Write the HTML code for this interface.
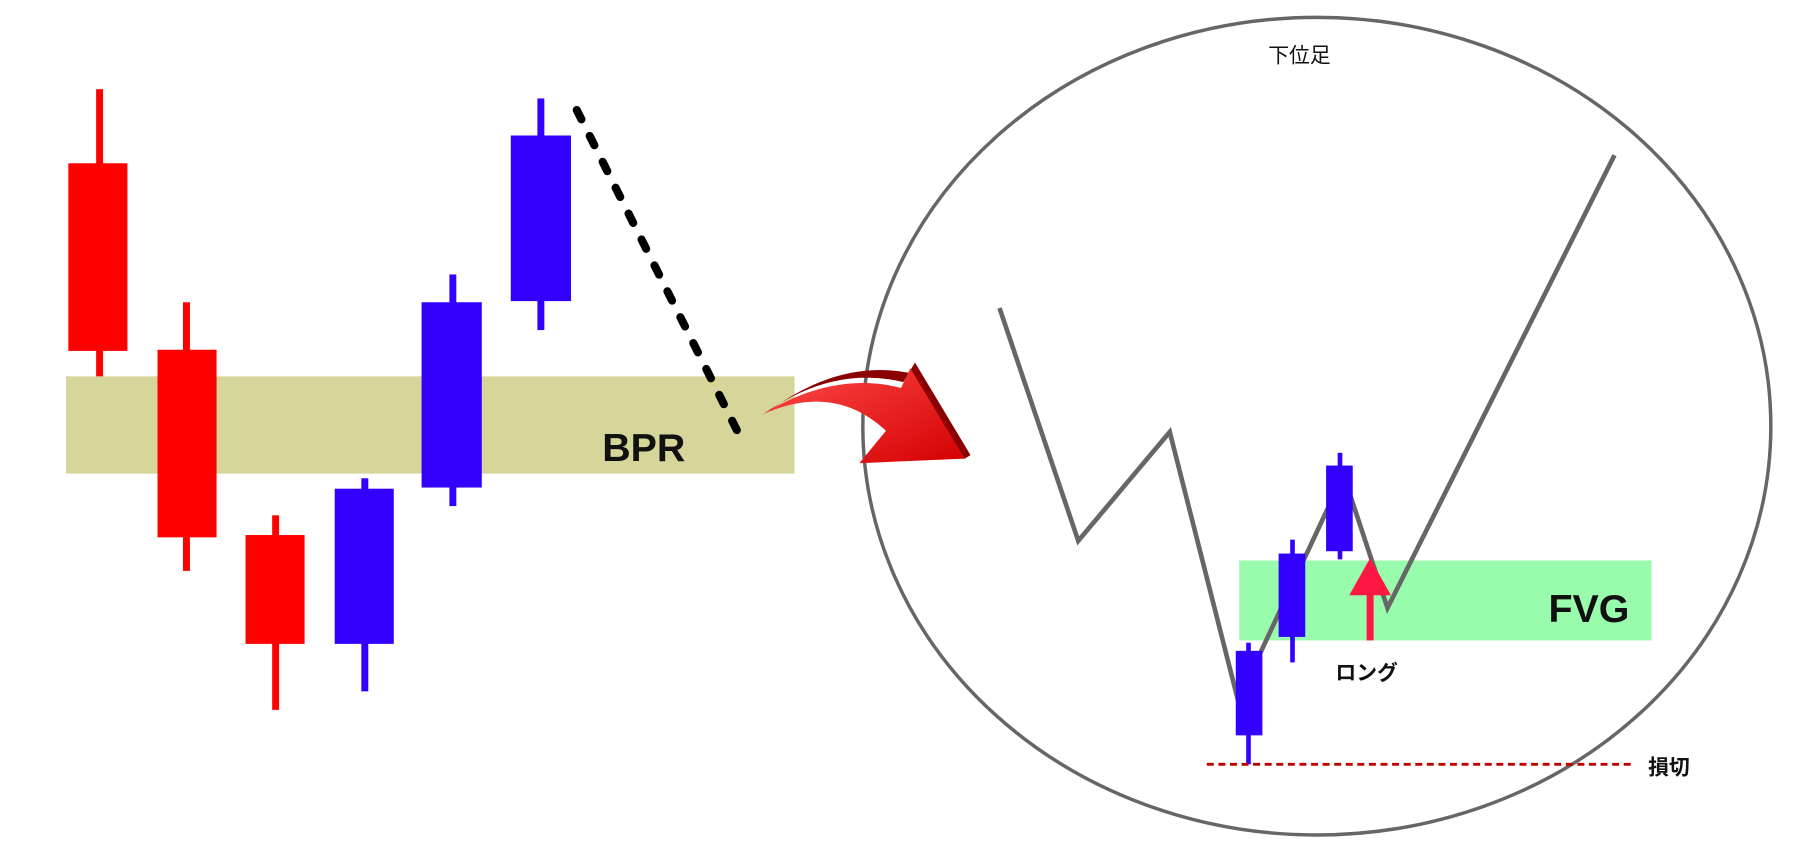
<!DOCTYPE html>
<html><head><meta charset="utf-8"><style>html,body{margin:0;padding:0;background:#fff;overflow:hidden}svg{display:block}</style></head>
<body>
<svg width="1816" height="847" viewBox="0 0 1568 731.4" preserveAspectRatio="none" xmlns="http://www.w3.org/2000/svg">
<defs>
<linearGradient id="g" x1="0" y1="0" x2="1" y2="1">
<stop offset="0" stop-color="#ff4a4a"/><stop offset="1" stop-color="#d40000"/>
</linearGradient>
</defs>
<rect x="57" y="325" width="629" height="84" fill="#d6d69b"/>
<g fill="#ff0000">
<rect x="83" y="77" width="6" height="248"/><rect x="59" y="141" width="51" height="162"/>
<rect x="158" y="261" width="6" height="232"/><rect x="136" y="302" width="51" height="162"/>
<rect x="235" y="445" width="6" height="168"/><rect x="212" y="462" width="51" height="94"/>
</g>
<g fill="#3300ff">
<rect x="312" y="413" width="6" height="184"/><rect x="289" y="422" width="51" height="134"/>
<rect x="388" y="237" width="6" height="200"/><rect x="364" y="261" width="52" height="160"/>
<rect x="464" y="85" width="6" height="200"/><rect x="441" y="117" width="52" height="143"/>
</g>
<text x="520" y="398" font-family="Liberation Sans, sans-serif" font-weight="bold" font-size="34" fill="#111">BPR</text>
<line x1="498" y1="95" x2="642" y2="383" stroke="#000" stroke-width="7" stroke-linecap="round" stroke-dasharray="9 16"/>
<ellipse cx="1137" cy="368" rx="392" ry="353" fill="none" stroke="#666" stroke-width="3"/>
<text x="1122" y="54" text-anchor="middle" font-family="Liberation Sans, Noto Sans CJK JP, sans-serif" font-size="18" fill="#111">下位足</text>
<rect x="1070" y="484" width="356" height="69" fill="#99fcac"/>
<text x="1337" y="537" font-family="Liberation Sans, sans-serif" font-weight="bold" font-size="34" fill="#111">FVG</text>
<polyline points="863,266 931,467 1010,373 1069,605 1160,410 1198,525 1394,134" fill="none" stroke="#666" stroke-width="4"/>
<g fill="#3300ff">
<rect x="1076" y="555" width="4" height="105"/><rect x="1067" y="562" width="23" height="73"/>
<rect x="1114" y="466" width="4" height="106"/><rect x="1104" y="478" width="23" height="72"/>
<rect x="1155" y="391" width="4" height="92"/><rect x="1145" y="402" width="23" height="74"/>
</g>
<rect x="1180" y="510" width="6" height="43" fill="#ff1744"/>
<polygon points="1165,514 1183,482 1201,514" fill="#ff1744"/>
<text x="1153" y="587" font-family="Liberation Sans, Noto Sans CJK JP, sans-serif" font-weight="bold" font-size="18" fill="#111">ロング</text>
<line x1="1042" y1="660" x2="1408" y2="660" stroke="#c00000" stroke-width="2.5" stroke-dasharray="6 4"/>
<text x="1423" y="669" font-family="Liberation Sans, Noto Sans CJK JP, sans-serif" font-weight="bold" font-size="18" fill="#111">損切</text>
<path d="M660,357 Q720,315 780,330 L790,313 L838,393 L833,396 L785,322 Q725,310 664,355 Z" fill="#8b0000"/>
<path d="M658,358 Q720,330 765,372 L742,400 L833,396 L786,318 L778,335 Q720,320 658,358 Z" fill="url(#g)"/>
</svg>
</body></html>
